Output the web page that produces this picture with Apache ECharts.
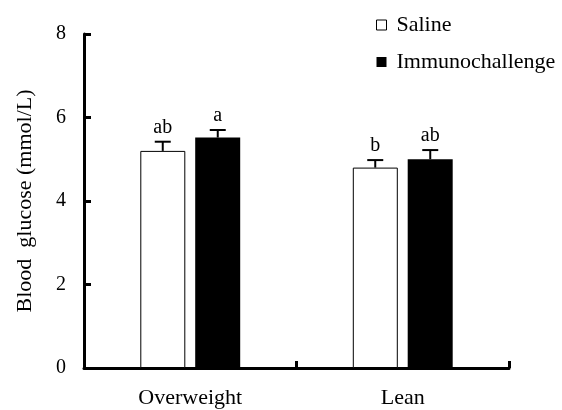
<!DOCTYPE html>
<html><head><meta charset="utf-8">
<script src="https://cdn.jsdelivr.net/npm/echarts@6/dist/echarts.min.js"></script>
<style>html,body{margin:0;padding:0;background:#fff}#c{width:562px;height:410px}</style>
</head><body><div id="c"></div>
<script>
var categories = ['Overweight', 'Lean'];
var salineValues = [5.2, 4.8];
var salineErrors = [0.22, 0.18];
var salineLetters = ['ab', 'b'];
var immunoValues = [5.52, 5.0];
var immunoErrors = [0.18, 0.22];
var immunoLetters = ['a', 'ab'];
var yTicks = [0, 2, 4, 6, 8];

var FONT = '"Liberation Serif", "Times New Roman", serif';
var chart = echarts.init(document.getElementById('c'));

function errSeries(name, vals, errs, letters, offset) {
  return {
    type: 'custom',
    name: name + '_err',
    z: 5,
    data: vals.map(function (v, i) { return [i, v, v + errs[i]]; }),
    renderItem: function (params, api) {
      var base = api.coord([api.value(0), api.value(1)]);
      var top = api.coord([api.value(0), api.value(2)]);
      var x = base[0] + offset;
      return {
        type: 'group',
        children: [
          { type: 'line', shape: { x1: x, y1: base[1], x2: x, y2: top[1] }, style: { stroke: '#000', lineWidth: 2 } },
          { type: 'line', shape: { x1: x - 8, y1: top[1], x2: x + 8, y2: top[1] }, style: { stroke: '#000', lineWidth: 2 } },
          { type: 'text', style: { text: letters[params.dataIndex], x: x, y: top[1] - 4, align: 'center', verticalAlign: 'bottom', font: '20px ' + FONT, fill: '#000' } }
        ]
      };
    }
  };
}

chart.setOption({
  animation: false,
  backgroundColor: '#fff',
  grid: { left: 84, right: 53, top: 34, bottom: 42 },
  legend: {
    orient: 'vertical', left: 371, top: 9, itemWidth: 10, itemHeight: 10, itemGap: 15,
    icon: 'rect',
    textStyle: { fontFamily: FONT, fontSize: 22, color: '#000', padding: [0, 0, 0, 5] },
    data: [
      { name: 'Saline', itemStyle: { color: '#fff', borderColor: '#000', borderWidth: 1 } },
      { name: 'Immunochallenge', itemStyle: { color: '#000' } }
    ]
  },
  xAxis: {
    type: 'category', data: categories,
    axisLine: { lineStyle: { color: '#000', width: 3 } },
    axisTick: { show: true, interval: 0, inside: true, length: 7, lineStyle: { color: '#000', width: 3 } },
    axisLabel: { margin: 19, fontFamily: FONT, fontSize: 22, color: '#000' }
  },
  yAxis: {
    type: 'value', min: 0, max: 8, interval: 2,
    name: 'Blood  glucose (mmol/L)', nameLocation: 'middle', nameGap: 48, nameRotate: 90,
    nameTextStyle: { fontFamily: FONT, fontSize: 22, color: '#000' },
    splitLine: { show: false },
    axisLine: { show: true, lineStyle: { color: '#000', width: 3 } },
    axisTick: { show: true, inside: true, length: 7, lineStyle: { color: '#000', width: 3 } },
    axisLabel: { margin: 18, fontFamily: FONT, fontSize: 20, color: '#000',
      formatter: function (v) { return yTicks.indexOf(v) >= 0 ? String(v) : ''; } }
  },
  series: [
    { type: 'bar', name: 'Saline', data: salineValues, barWidth: 45, barGap: '22%',
      itemStyle: { color: '#fff', borderColor: '#000', borderWidth: 1 } },
    { type: 'bar', name: 'Immunochallenge', data: immunoValues, barWidth: 45, barGap: '22%',
      itemStyle: { color: '#000' } },
    errSeries('Saline', salineValues, salineErrors, salineLetters, -27.5),
    errSeries('Immunochallenge', immunoValues, immunoErrors, immunoLetters, 27.5)
  ]
});
</script></body></html>
